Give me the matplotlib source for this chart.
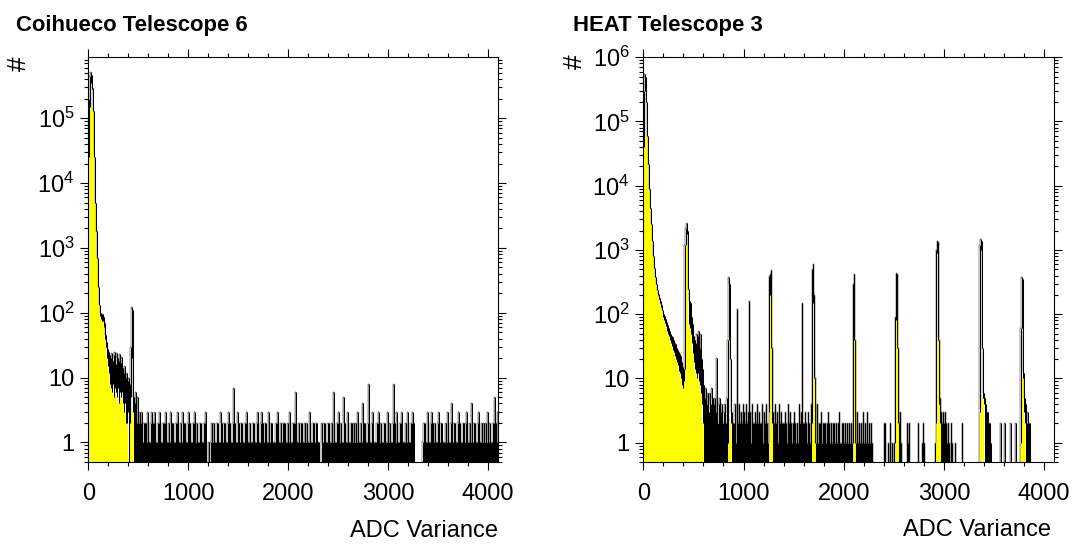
import numpy as np
import matplotlib
matplotlib.use('Agg')
import matplotlib.pyplot as plt
from matplotlib.ticker import MultipleLocator, LogLocator, NullFormatter, FuncFormatter

plt.rcParams['font.family'] = ['Liberation Sans', 'DejaVu Sans']

BIN = 10  # ADC counts covered by one drawn column (about one pixel)

# Coihueco Telescope 6: min / max count inside each 10-ADC column, ADC 0..450
coi_core_lo = [2.5e4, 1.5e5, 3.5e5, 2.8e5, 1.3e5, 2.5e4, 5e3, 1.8e3, 700, 250,
               130, 90, 80, 75, 75, 60, 40, 30, 20, 15,
               12, 8, 7, 6, 8, 5, 7, 6, 5, 7,
               4, 6, 5, 6, 4, 3, 4, 2, 2, 3,
               0, 2, 5, 20, 3, 0]
coi_core_hi = [2e5, 4.5e5, 5.2e5, 4.6e5, 2.9e5, 1.3e5, 2.5e4, 5e3, 1.8e3, 700,
               250, 130, 100, 95, 95, 85, 70, 45, 35, 28,
               25, 22, 20, 24, 18, 22, 25, 16, 24, 20,
               18, 23, 17, 21, 14, 12, 15, 10, 12, 9,
               10, 8, 30, 125, 110, 5]
# column maxima from ADC 460 on, one digit per column
coi_tail = ("4625232312" "2213112322" "3112231122" "2311213221" "1223112132"
            "2112321122" "3121122112" "2300101212" "1122113212" "2112321127"
            "2113212211" "2231121122" "1123112321" "2211312211" "1223112122"
            "2112131122" "2611212211" "2121131122" "1221100212" "2112211216"
            "1122312115" "2113112212" "1213112142" "2112811231" "1122312112"
            "2113121128" "2131122311" "1213112232" "0000000012" "2113112321"
            "2112312211" "1213112412" "2112321122" "1231121412" "2112311212"
            "1213121122" "5213")

# HEAT Telescope 3: ADC 0..590
heat_core_lo = [4e4, 3e5, 2e5, 6e4, 2.2e4, 9e3, 4.5e3, 2.5e3, 1.4e3, 800,
                520, 380, 300, 240, 200, 175, 150, 130, 115, 90,
                80, 72, 65, 55, 50, 45, 40, 36, 32, 28,
                26, 22, 20, 18, 16, 13, 12, 10, 8, 7,
                9, 14, 1200, 1800, 250, 70, 60, 50, 35, 25,
                18, 14, 12, 10, 12, 9, 8, 6, 4, 2]
heat_core_hi = [3e5, 5.5e5, 5e5, 2e5, 6e4, 2.2e4, 9e3, 4.5e3, 2.5e3, 1.4e3,
                800, 520, 380, 300, 240, 205, 180, 160, 140, 115,
                100, 95, 85, 75, 68, 62, 55, 50, 46, 44,
                40, 36, 34, 30, 28, 26, 24, 22, 18, 15,
                14, 1200, 2200, 2600, 2000, 250, 160, 150, 90, 70,
                45, 40, 35, 50, 45, 55, 30, 50, 20, 14]
# column maxima from ADC 600 on
heat_tail = ("8574636475" "4536245342" "3425234232" "2413242324" "3242323142"
             "2324232241" "3242132423" "2423142322" "2321423212" "3212142312"
             "2321321413" "2314122312" "2212321212" "2121231122" "1212121211"
             "1213121213" "1213121210" "0000000000" "2200102010" "1000023100"
             "0002120000" "0000200012" "1000000000" "0100000323" "2321210210"
             "0100000020" "0000000000" "0000000000" "5433221000" "0000002000"
             "2000002000" "0200000000" "0423220000" "0000000000" "0000000000")
# calibration peaks: first column (ADC), then min / max per column
heat_peak_at = [730, 840, 930, 1050, 1250, 1580, 1680, 2090, 2510, 2920, 3350, 3760]
heat_peak_lo = [[0], [1, 40, 20, 2], [0], [0], [3, 200, 30, 2], [0], [2, 150, 10, 1],
                [1, 40, 1], [1, 80, 30, 2], [2, 900, 40, 4, 2], [3, 1000, 30, 5, 4],
                [1, 60, 10, 3, 2]]
heat_peak_hi = [[21], [40, 380, 300, 20], [120], [160], [400, 420, 480, 30], [150],
                [500, 600, 200, 10], [300, 430, 40], [90, 440, 420, 30],
                [1000, 1400, 1350, 40, 5], [1200, 1500, 1400, 30, 6],
                [60, 380, 350, 12, 5]]


def columns(core_lo, core_hi, tail, peak_at=(), peak_lo=(), peak_hi=()):
    hi = np.array(list(core_hi) + [float(c) for c in tail])
    lo = np.array(list(core_lo) + [0.0] * len(tail))
    for start, pl, ph in zip(peak_at, peak_lo, peak_hi):
        i = start // BIN
        lo[i:i + len(pl)] = pl
        hi[i:i + len(ph)] = ph
    return lo, hi


def ylab(v, pos):
    e = int(round(np.log10(v)))
    if e < 0 or e > 6:
        return ''
    if e == 0:
        return '1'
    if e == 1:
        return '10'
    return r'$\mathregular{10^{%d}}$' % e


def draw(ax, lo, hi, ymax):
    floor = 0.05
    edges = np.arange(len(hi) + 1) * BIN
    hi_d = np.where(hi > 0, hi, floor)
    lo_d = np.where(lo > 0, lo, floor)
    # yellow only shows below the lowest bin of each column, the rest is ink
    ax.stairs(lo_d, edges, fill=True, color='#ffff00', baseline=floor, lw=0)
    ax.stairs(hi_d, edges, color='k', lw=0.3, baseline=floor)
    ax.vlines(edges[:-1] + BIN / 2, lo_d, hi_d, colors='k', lw=0.75)

    ax.set_yscale('log')
    ax.set_xlim(0, 4096)
    ax.set_ylim(0.5, ymax)
    ax.xaxis.set_major_locator(MultipleLocator(1000))
    ax.xaxis.set_minor_locator(MultipleLocator(200))
    ax.yaxis.set_major_locator(LogLocator(base=10, numticks=12))
    ax.yaxis.set_minor_locator(LogLocator(base=10, subs=np.arange(2, 10), numticks=30))
    ax.yaxis.set_major_formatter(FuncFormatter(ylab))
    ax.yaxis.set_minor_formatter(NullFormatter())
    ax.tick_params(which='both', direction='out', top=True, right=True, width=0.8)
    ax.tick_params(which='major', length=5.8, labelsize=17)
    ax.tick_params(which='minor', length=3)
    ax.tick_params(axis='x', pad=9)
    ax.tick_params(axis='y', pad=4)
    for s in ax.spines.values():
        s.set_linewidth(0.8)


W, H = 1081, 545
fig = plt.figure(figsize=(W / 100, H / 100), dpi=100)

ax1 = fig.add_axes([88.3 / W, 83 / H, 409.4 / W, 405.3 / H])
lo, hi = columns(coi_core_lo, coi_core_hi, coi_tail)
draw(ax1, lo, hi, 8.9e5)

ax2 = fig.add_axes([643.3 / W, 83 / H, 410.5 / W, 405.3 / H])
lo, hi = columns(heat_core_lo, heat_core_hi, heat_tail, heat_peak_at, heat_peak_lo, heat_peak_hi)
draw(ax2, lo, hi, 1.02e6)

fig.text(15.7 / W, 1 - 31 / H, 'Coihueco Telescope 6', fontsize=15.9, fontweight='bold', va='baseline')
fig.text(573.3 / W, 1 - 31 / H, 'HEAT Telescope 3', fontsize=15.9, fontweight='bold', va='baseline')
fig.text(19 / W, 1 - 56 / H, '#', fontsize=19, rotation=90, ha='center', va='top')
fig.text(575 / W, 1 - 54 / H, '#', fontsize=19, rotation=90, ha='center', va='top')
fig.text(498 / W, 1 - 536.7 / H, 'ADC Variance', fontsize=17, ha='right', va='baseline')
fig.text(1051 / W, 1 - 535.5 / H, 'ADC Variance', fontsize=17, ha='right', va='baseline')

fig.savefig('out.png', dpi=100)
